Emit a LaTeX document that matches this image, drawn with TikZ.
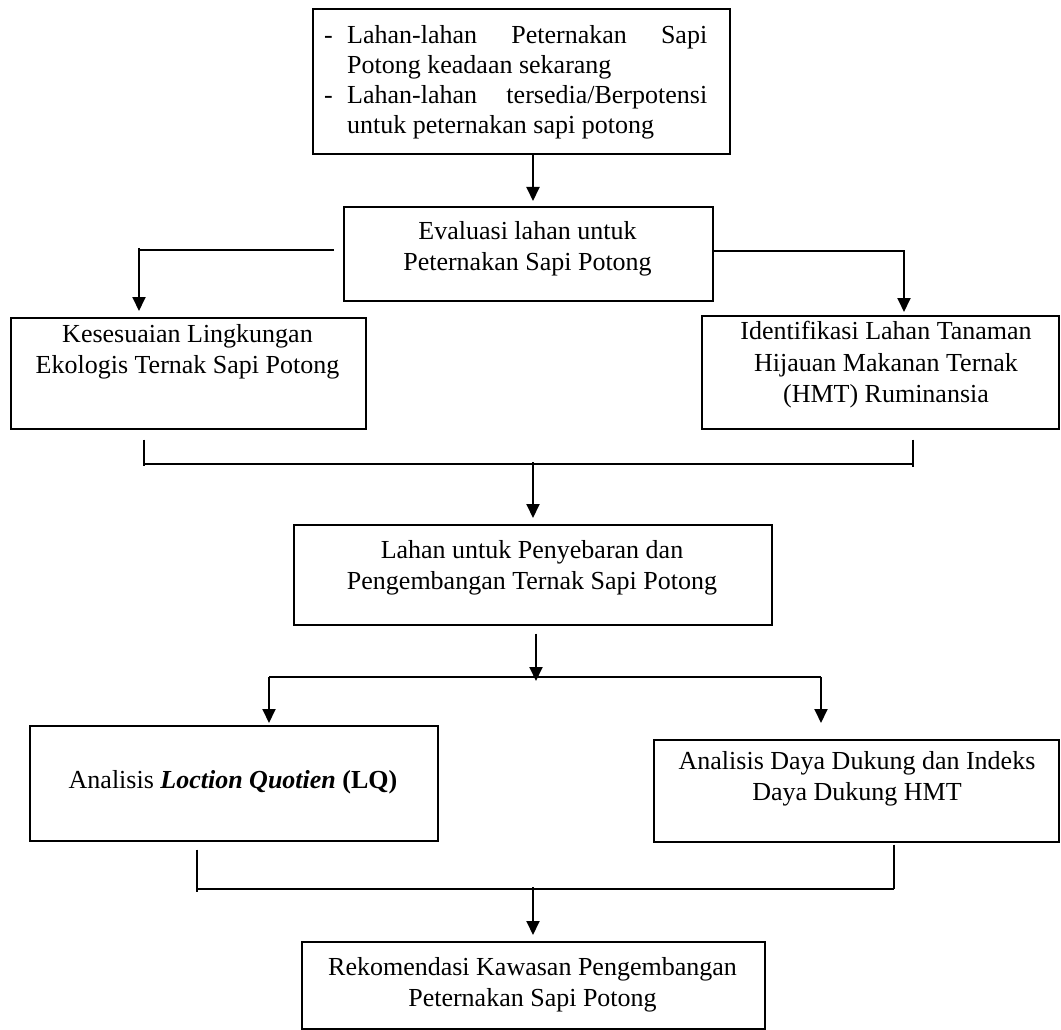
\documentclass[tikz,border=0pt]{standalone}
\usepackage{fontspec}
\setmainfont{Liberation Serif}
\usetikzlibrary{arrows.meta,calc}
\begin{document}
\begin{tikzpicture}[x=1pt,y=-1pt,
  box/.style={draw,line width=1.6pt,inner sep=0pt,anchor=north west},
  ln/.style={line width=1.9pt},
  arr/.style={line width=1.9pt,-{Triangle[length=14pt,width=13pt]}},
  txt/.style={inner sep=0pt,anchor=north,align=center,font=\fontsize{26}{31.5}\selectfont}]
\useasboundingbox (0,0) rectangle (1061,1030);
% boxes
\node[box,minimum width=417pt,minimum height=145pt] (top) at (312,8) {};
\node[box,minimum width=369pt,minimum height=94pt] (eval) at (343,206) {};
\node[box,minimum width=355pt,minimum height=111pt] (kes) at (10,317) {};
\node[box,minimum width=357pt,minimum height=113pt] (ident) at (701,315) {};
\node[box,minimum width=478pt,minimum height=100pt] (lahan) at (293,524) {};
\node[box,minimum width=408pt,minimum height=115pt] (lq) at (29,725) {};
\node[box,minimum width=405pt,minimum height=102pt] (dd) at (653,739) {};
\node[box,minimum width=463pt,minimum height=87pt] (rek) at (301,941) {};
% texts
\node[inner sep=0pt,anchor=north west,text width=383pt,align=justify,
  font=\fontsize{26}{30}\selectfont] (topT) at (324,25)
  {\parindent=0pt\hyphenpenalty=10000
   \hangindent=23pt\hangafter=1\makebox[23pt][l]{-}Lahan-lahan Peternakan Sapi\linebreak Potong keadaan sekarang\par
   \hangindent=23pt\hangafter=1\makebox[23pt][l]{-}Lahan-lahan tersedia/Berpotensi\linebreak untuk peternakan sapi potong\par};
\node[txt] (evalT) at (527.5,221) {Evaluasi lahan untuk\\Peternakan Sapi Potong};
\node[txt] (kesT) at (187.5,324) {Kesesuaian Lingkungan\\Ekologis Ternak Sapi Potong};
\node[txt] (identT) at (886,321) {Identifikasi Lahan Tanaman\\Hijauan Makanan Ternak\\(HMT) Ruminansia};
\node[txt] (lahanT) at (532,540) {Lahan untuk Penyebaran dan\\Pengembangan Ternak Sapi Potong};
\node[txt,anchor=center] (lqT) at (233,782) {Analisis \textbf{\textit{Loction Quotien}} \textbf{(LQ)}};
\node[txt] (ddT) at (857,751) {Analisis Daya Dukung dan Indeks\\Daya Dukung HMT};
\node[txt] (rekT) at (532.5,957) {Rekomendasi Kawasan Pengembangan\\Peternakan Sapi Potong};
% bend coordinates
\coordinate (a1) at (533,0);
\coordinate (b1) at (139,249);
\coordinate (b2) at (904,250);
\coordinate (c1) at (144,464);
\coordinate (c2) at (913,464);
\coordinate (c3) at (533,462);
\coordinate (d0) at (536,681);
\coordinate (d1) at (269,677);
\coordinate (d2) at (821,677);
\coordinate (e1) at (197,889);
\coordinate (e2) at (894,889);
\coordinate (e3) at (533,887);
\coordinate (s1) at ($(eval.west)+(-9,-4)$);
% connectors
\draw[arr] (top.south -| a1) -- ([yshift=5pt]eval.north -| a1);
\draw[ln] (s1) -- (s1 -| b1);
\draw[arr] ([yshift=2pt]s1 -| b1) -- ([yshift=6pt]kes.north -| b1);
\draw[arr] ($(eval.east)+(0,-3)$) -| ([yshift=3pt]ident.north -| b2);
\draw[ln] (c1) -- (c2);
\draw[ln] ([yshift=-10pt]kes.south -| c1) -- ([yshift=-2pt]c1);
\draw[ln] ([yshift=-10pt]ident.south -| c2) -- ([yshift=-3pt]c2);
\draw[arr] (c3) -- ([yshift=6pt]lahan.north -| c3);
\draw[arr] ([yshift=-8pt]lahan.south -| d0) -- (d0);
\draw[ln] (d1) -- (d2);
\draw[arr] (d1) -- ([yshift=2pt]lq.north -| d1);
\draw[arr] (d2) -- ([yshift=16pt]dd.north -| d2);
\draw[ln] (e1) -- (e2);
\draw[ln] ([yshift=-8pt]lq.south -| e1) -- ([yshift=-3pt]e1);
\draw[ln] ([yshift=-2pt]dd.south -| e2) -- (e2);
\draw[arr] (e3) -- ([yshift=6pt]rek.north -| e3);
\end{tikzpicture}
\end{document}
